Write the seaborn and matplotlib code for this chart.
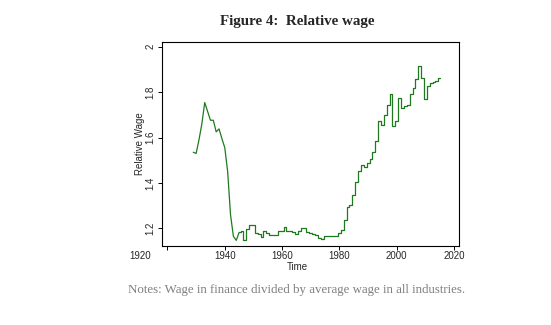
import matplotlib
matplotlib.use("Agg")
import matplotlib.pyplot as plt
import matplotlib.transforms as mtransforms
import pandas as pd
import seaborn as sns

# Relative wage in finance (finance wage / average wage, all industries)
years = list(range(1929, 2016))
relative_wage = [
    1.535, 1.530, 1.590, 1.660, 1.754, 1.715, 1.676, 1.676, 1.625, 1.638,  # 1929-1938
    1.595, 1.555, 1.450, 1.260, 1.165, 1.147, 1.182, 1.190, 1.149, 1.195,  # 1939-1948
    1.213, 1.216, 1.178, 1.176, 1.163, 1.190, 1.180, 1.172, 1.170, 1.172,  # 1949-1958
    1.186, 1.187, 1.207, 1.190, 1.188, 1.183, 1.174, 1.186, 1.200, 1.200,  # 1959-1968
    1.185, 1.181, 1.175, 1.172, 1.158, 1.155, 1.166, 1.167, 1.167, 1.166,  # 1969-1978
    1.167, 1.178, 1.194, 1.236, 1.294, 1.302, 1.347, 1.405, 1.452, 1.478,  # 1979-1988
    1.470, 1.486, 1.504, 1.537, 1.584, 1.671, 1.655, 1.697, 1.744, 1.790,  # 1989-1998
    1.651, 1.672, 1.775, 1.731, 1.739, 1.742, 1.791, 1.816, 1.857, 1.916,  # 1999-2008
    1.860, 1.769, 1.828, 1.842, 1.846, 1.851, 1.863,                       # 2009-2015
]
x_ticks = [1920, 1940, 1960, 1980, 2000, 2020]
y_ticks = [1.2, 1.4, 1.6, 1.8, 2.0]
y_tick_labels = ["1.2", "1.4", "1.6", "1.8", "2"]

df = pd.DataFrame({"Time": years, "Relative Wage": relative_wage})
early = df[df["Time"] <= 1945]
late = df[df["Time"] >= 1945]

sns.set_style("white")
plt.rcParams["font.family"] = ["Liberation Sans", "DejaVu Sans"]

fig = plt.figure(figsize=(5.51, 3.25), dpi=100)
ax = fig.add_axes([0.2935, 0.243, 0.5395, 0.6287])

line_color = "#1f7a1f"
sns.lineplot(data=early, x="Time", y="Relative Wage", ax=ax,
             color=line_color, linewidth=0.9)
sns.lineplot(data=late, x="Time", y="Relative Wage", ax=ax,
             color=line_color, linewidth=0.9, drawstyle="steps-mid")

ax.set_xlim(1918.0, 2021.7)
ax.set_ylim(1.122, 2.022)
ax.set_xticks(x_ticks)
ax.set_xticklabels([str(t) for t in x_ticks])
ax.set_yticks(y_ticks)
ax.set_yticklabels(y_tick_labels, rotation=90, va="center")

for side in ["left", "right", "top", "bottom"]:
    ax.spines[side].set_visible(True)
    ax.spines[side].set_color("black")
    ax.spines[side].set_linewidth(0.8)

ax.tick_params(axis="both", which="major", direction="out", length=3,
               width=0.7, color="black", labelsize=7, pad=1.5,
               bottom=True, left=True, top=False, right=False)
ax.tick_params(axis="x", pad=0.5)

# the first year label sits to the left of its tick
first = ax.get_xticklabels()[0]
first.set_transform(first.get_transform() +
                    mtransforms.ScaledTranslation(-27 / 100, 0, fig.dpi_scale_trans))

ax.set_xlabel("")
ax.set_ylabel("Relative Wage", fontsize=7)
ax.yaxis.set_label_coords(-0.056, 0.5)
fig.text(0.539, 1 - 266.5 / 325, "Time", ha="center", va="center", fontsize=7)

fig.text(0.539, 1 - 22 / 325, "Figure 4:  Relative wage", ha="center", va="center",
         fontsize=10.8, fontweight="bold", family=["Liberation Serif", "DejaVu Serif"])
fig.text(0.539, 1 - 290 / 325,
         "Notes: Wage in finance divided by average wage in all industries.",
         ha="center", va="center", fontsize=9.3, color="#7f7f7f",
         family=["Liberation Serif", "DejaVu Serif"])

fig.savefig("out.png", dpi=100, facecolor="white")
